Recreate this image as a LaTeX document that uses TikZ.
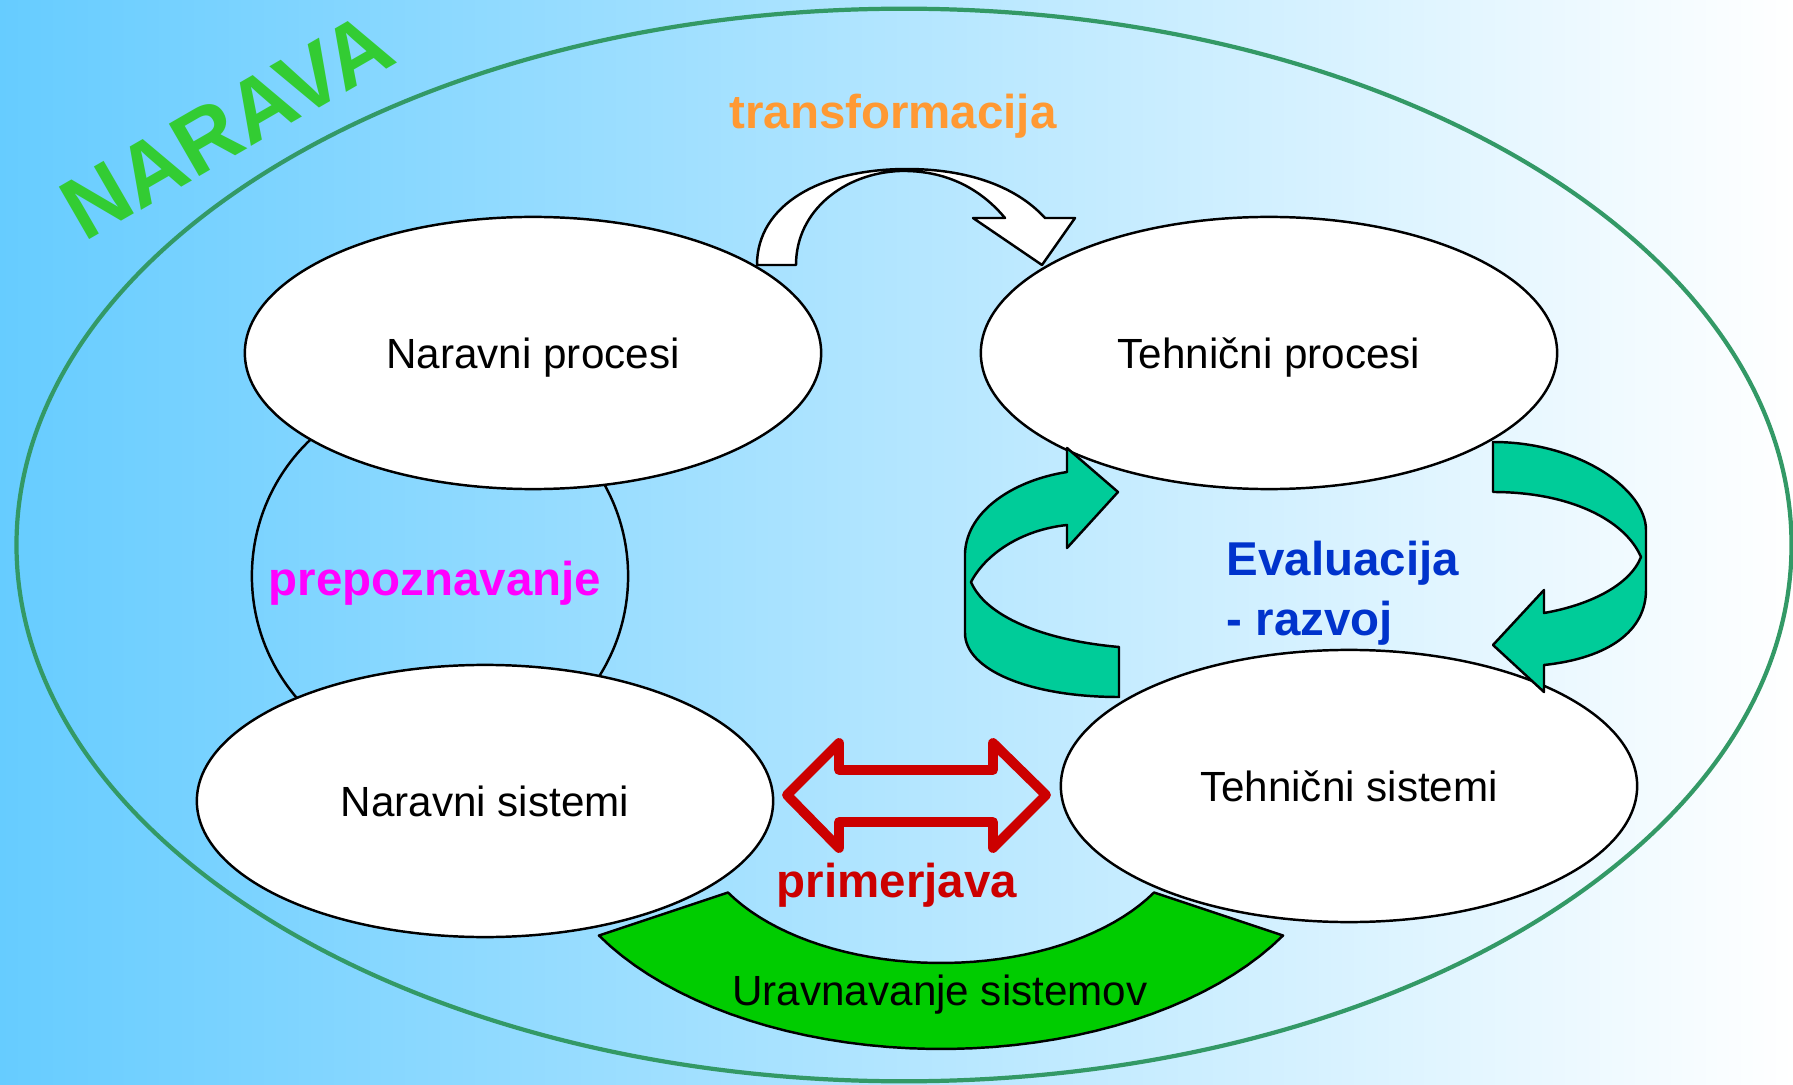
\documentclass[tikz,border=0pt]{standalone}
\usepackage{fontspec}
\setmainfont{Liberation Sans}
\usetikzlibrary{shapes.geometric}
\definecolor{skyleft}{RGB}{102,204,255}
\definecolor{naturegreen}{RGB}{51,204,51}
\definecolor{rimgreen}{RGB}{51,153,102}
\definecolor{transorange}{RGB}{255,153,51}
\definecolor{recogpink}{RGB}{255,0,255}
\definecolor{evalblue}{RGB}{0,51,204}
\definecolor{cmpred}{RGB}{204,0,0}
\definecolor{ribbongreen}{RGB}{0,204,153}
\definecolor{balancegreen}{RGB}{0,204,0}

\begin{document}
\begin{tikzpicture}[x=0.01cm, y=-0.01cm]
  \tikzstyle{oval} = [draw, ellipse, fill=white, line width=0.7pt, minimum width=5.76cm, minimum height=2.72cm, text depth=0pt, font=\fontsize{12}{14}\selectfont]
  \tikzstyle{tag} = [font=\fontsize{13.5}{17}\selectfont\bfseries, anchor=base, inner sep=0pt]
  \tikzstyle{ribbon} = [draw, fill=ribbongreen, line width=0.7pt, line join=round]
  \useasboundingbox (0,0) rectangle (1793,1085);
  \shade[left color=skyleft, right color=white] (0,0) rectangle (1793,1085);
  \draw[rimgreen, line width=1.2pt] (904,545) ellipse [x radius=8.87cm, y radius=5.36cm];
  \node[rotate=30, text=naturegreen, font=\fontsize{25}{29}\selectfont\bfseries] (nature) at (227,126) {NARAVA};

  \node[draw, circle, line width=0.7pt, minimum size=3.76cm] (recog) at (440,576) {};
  \node[oval] (natproc) at (533,353) {Naravni procesi};
  \node[oval] (techproc) at (1269,353) {Tehnični procesi};
  \node[oval] (natsys) at (485,801) {Naravni sistemi};
  \node[oval] (techsys) at (1349,786) {Tehnični sistemi};

  \node[tag, text=transorange] (trans) at (893,129) {transformacija};
  \node[tag, text=recogpink] (recogtxt) at (435,595) {prepoznavanje};
  \node[tag, text=evalblue, anchor=base west, align=left] (evaltxt) at (1226,635) {Evaluacija\\- razvoj};
  \node[tag, text=cmpred] (cmptxt) at (897,897) {primerjava};

  \draw[fill=white, line width=0.7pt, line join=round] (757,265) .. controls (757,205) and (820,169) .. (907,169)
    .. controls (965,169) and (1015,185) .. (1045,218) -- (1075,218) -- (1042,265) -- (973,218) -- (1005,218)
    .. controls (980,188) and (945,170) .. (900,171) .. controls (845,173) and (796,210) .. (796,265) -- cycle;

  \draw[ribbon] (1119,697) -- (1119,647) .. controls (1040,640) and (985,615) .. (971,582)
    .. controls (985,555) and (1020,530) .. (1067,525) -- (1067,548) -- (1118,492) -- (1067,448) -- (1067,472)
    .. controls (1015,480) and (967,510) .. (965,553) -- (965,633) .. controls (965,670) and (1030,697) .. (1119,697) -- cycle;
  \draw[ribbon] (1493,442) .. controls (1580,442) and (1646,490) .. (1646,530) -- (1646,590)
    .. controls (1646,630) and (1610,658) .. (1544,665) -- (1544,692) -- (1493,645) -- (1544,590) -- (1544,613)
    .. controls (1590,605) and (1630,585) .. (1641,557) .. controls (1625,520) and (1570,492) .. (1493,492) -- cycle;

  \draw[cmpred, line width=2.8pt, line join=round] (787,795) -- (839,743) -- (839,770) -- (993,770) -- (993,743)
    -- (1046,795) -- (993,848) -- (993,822) -- (839,822) -- (839,848) -- cycle;

  \draw[fill=balancegreen, line width=0.7pt, line join=round]
    plot[domain=210:330, samples=40] ({941+246*cos(\x)}, {822-141*sin(\x)})
    -- plot[domain=330:210, samples=40] ({941+395*cos(\x)}, {822-227*sin(\x)}) -- cycle;
  \node[anchor=base, font=\fontsize{12}{14}\selectfont] (balance) at (940,1005) {Uravnavanje sistemov};
\end{tikzpicture}
\end{document}
